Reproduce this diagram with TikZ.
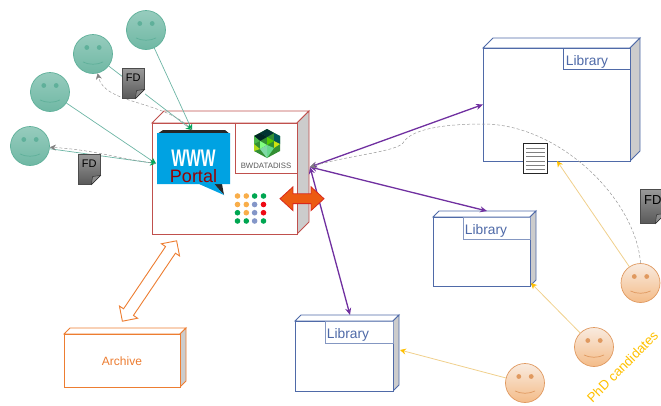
\documentclass[tikz,border=0pt]{standalone}
\usepackage{fontspec}
\setmainfont{Liberation Sans}
\usetikzlibrary{arrows.meta,shapes.arrows,calc}
\definecolor{facegreen}{HTML}{5FB09A}
\definecolor{facepeach}{HTML}{E0995F}
\definecolor{portalred}{HTML}{C0504D}
\definecolor{libblue}{HTML}{4F6AA8}
\definecolor{archorange}{HTML}{ED7D31}
\definecolor{phdyellow}{HTML}{FFC000}
\definecolor{linkpurple}{HTML}{7030A0}
\definecolor{linkteal}{HTML}{6DB5A5}
\definecolor{linksand}{HTML}{F0D08C}
\definecolor{bubbleblue}{HTML}{00A2E2}
\definecolor{dotorange}{HTML}{F9AE4A}
\definecolor{dotgreen}{HTML}{00A651}
\definecolor{dotblue}{HTML}{8496C8}
\definecolor{dotred}{HTML}{EE0A14}
\definecolor{arrowfill}{HTML}{EC5A12}
\definecolor{arrowedge}{HTML}{D8281C}
\tikzset{
	faceA/.style={circle,minimum size=39pt,inner sep=0pt,draw=facegreen,line width=0.7pt,top color=facegreen!65,bottom color=facegreen!90},
	faceB/.style={circle,minimum size=39pt,inner sep=0pt,draw=facepeach,line width=0.7pt,top color=facepeach!20,bottom color=orange!40!facepeach!60},
	frontbox/.style={draw=#1,fill=white,line width=0.9pt,inner sep=0pt,outer sep=0pt,anchor=north west},
	fdicon/.style={draw=black!70,line width=0.5pt,top color=black!40,bottom color=black!65,inner sep=0pt,anchor=north west,align=center},
	tealline/.style={color=linkteal,line width=0.7pt,-{Stealth[length=6pt,width=6pt,color=teal!70!green]}},
	purpleline/.style={color=linkpurple,line width=1.3pt,-{Stealth[length=7pt,width=6pt]}},
	sandline/.style={color=linksand,line width=0.8pt,-{Stealth[length=6pt,width=6pt,color=phdyellow]}},
	greyline/.style={color=black!40,line width=0.5pt,densely dashed,-{Stealth[length=6pt,width=6pt,color=black!50]}},
	libtext/.style={color=libblue,font=\fontsize{13.8}{14}\selectfont}
}
% face with eyes and mouth
\newcommand{\smiley}[5]{
	\node[#1] (#2) at (#3, #4) {};
	\fill[#5] ($(#2)+(-6.2,-6.5)$) circle (2.4);
	\fill[#5] ($(#2)+(6.2,-6.5)$) circle (2.4);
	\draw[#5,line width=0.7pt] ($(#2)+(-10,8)$) .. controls ($(#2)+(-4,11)$) and ($(#2)+(4,11)$) .. ($(#2)+(10,8)$);
}
% box with top and side faces, front is a node
\newcommand{\boxthreed}[7]{
	\filldraw[draw=#7,fill=white,line width=0.9pt] (#2, #3) -- (#2+#6, #3-#6) -- (#4+#6, #3-#6) -- (#4, #3) -- cycle;
	\filldraw[draw=#7,fill=black!20,line width=0.9pt] (#4, #3) -- (#4+#6, #3-#6) -- (#4+#6, #5-#6) -- (#4, #5) -- cycle;
	\node[frontbox=#7,minimum width=#4pt-#2pt,minimum height=#5pt-#3pt] (#1) at (#2, #3) {};
}
\newcommand{\fdnote}[7]{
	\node[fdicon,minimum width=#4pt,minimum height=#5pt] (#1) at (#2, #3) {};
	\fill[white] ($(#1.south east)+(-#7,0.5)$) -- ($(#1.south east)+(0.5,-#7)$) -- ($(#1.south east)+(0.5,0.5)$) -- cycle;
	\filldraw[draw=black!85,fill=black!45,line width=0.4pt] ($(#1.south east)+(-#7,0)$) -- ($(#1.south east)+(0,-#7)$) -- ($(#1.south east)+(-#7+1,-#7+1)$) -- cycle;
	\node[anchor=center,inner sep=0pt,font=\fontsize{#6}{#6}\selectfont] (#1text) at ($(#1.center)+(0,-#5*0.17)$) {FD};
}
\begin{document}
\begin{tikzpicture}[x=1pt,y=-1pt]
	\useasboundingbox (0,0) rectangle (661,405);

	% boxes
	\boxthreed{portal}{152}{123}{297}{234}{12}{portalred}
	\node[draw=portalred,line width=0.9pt,inner sep=0pt,outer sep=0pt,minimum width=62pt,minimum height=50pt,anchor=north west] (datadiss) at (235, 123.5) {};
	\node[inner sep=0pt,color=black!65,font=\fontsize{7.8}{8}\selectfont] (datadisstext) at (266, 166) {BWDATADISS};

	\boxthreed{libA}{483}{48}{630}{161}{10}{libblue}
	\node[draw=libblue,line width=0.8pt,anchor=north west,inner sep=0pt,outer sep=0pt,minimum width=67pt,minimum height=21pt] (libAlabel) at (563, 48) {};
	\node[libtext] (libAtext) at (587, 62) {Library};

	\boxthreed{libB}{433}{217}{530}{286}{6}{libblue}
	\node[draw=libblue!70,line width=0.8pt,anchor=north west,inner sep=0pt,outer sep=0pt,minimum width=67pt,minimum height=22pt] (libBlabel) at (463, 217) {};
	\node[libtext] (libBtext) at (486, 231) {Library};

	\boxthreed{libC}{295}{321}{393}{391}{6}{libblue}
	\node[draw=libblue!70,line width=0.8pt,anchor=north west,inner sep=0pt,outer sep=0pt,minimum width=68pt,minimum height=22pt] (libClabel) at (325, 321) {};
	\node[libtext] (libCtext) at (348, 335) {Library};

	\boxthreed{archive}{64}{334}{180}{387}{6}{archorange}
	\node[color=archorange,inner sep=0pt,font=\fontsize{12}{12}\selectfont] (archivetext) at (122, 361) {Archive};

	% bubble
	\fill[black!85] (157, 134) -- (163, 130) -- (225, 130) -- (230, 134) -- cycle;
	\fill[black!85] (214, 184) -- (224, 195) -- (222, 184) -- cycle;
	\fill[bubbleblue] (157, 133) -- (230, 133) -- (230, 184) -- (214, 184) -- (224, 195) -- (199, 184) -- (157, 184) -- cycle;
	\node[inner sep=0pt,color=white,font=\bfseries\fontsize{24}{24}\selectfont,xscale=0.65] (wwwtext) at (193.5, 158.5) {WWW};
	\node[inner sep=0pt,color=red!60!black,font=\fontsize{18}{18}\selectfont] (portaltext) at (193.5, 176) {Portal};

	% logo
	\fill[green!45!black!80] (267, 129) -- (280, 136) -- (280, 151) -- (267, 158) -- (254, 151) -- (254, 136) -- cycle;
	\fill[black!60!teal] (267, 129) -- (274, 133) -- (267, 137) -- (260, 133) -- cycle;
	\fill[black!70!teal] (260, 133) -- (267, 137) -- (260, 141) -- (254, 136) -- cycle;
	\fill[teal!70!black] (274, 133) -- (280, 136) -- (280, 144) -- (274, 141) -- cycle;
	\fill[green!60!yellow!80!black] (267, 137) -- (274, 141) -- (267, 145) -- cycle;
	\fill[yellow!80!green] (274, 141) -- (280, 144) -- (274, 148) -- cycle;
	\fill[green!60!black!70] (254, 136) -- (260, 141) -- (254, 144) -- cycle;
	\fill[green!50!white] (260, 141) -- (267, 145) -- (260, 149) -- cycle;
	\fill[yellow!70!green] (254, 144) -- (260, 149) -- (254, 151) -- cycle;
	\fill[teal!50!green!60] (267, 145) -- (274, 148) -- (267, 158) -- cycle;
	\fill[teal!60!green!50] (260, 149) -- (267, 145) -- (267, 158) -- cycle;

	% dots
	\fill[dotorange] (237.5, 196) circle (2.8);
	\fill[dotorange] (246.3, 196) circle (2.8);
	\fill[dotgreen] (254.6, 196) circle (2.8);
	\fill[dotgreen] (263.5, 196) circle (2.8);
	\fill[dotorange] (237.5, 204.5) circle (2.8);
	\fill[dotorange] (246.3, 204.5) circle (2.8);
	\fill[dotblue] (254.6, 204.5) circle (2.8);
	\fill[dotred] (263.5, 204.5) circle (2.8);
	\fill[dotgreen] (237.5, 212.7) circle (2.8);
	\fill[dotorange] (246.3, 212.7) circle (2.8);
	\fill[dotblue] (254.6, 212.7) circle (2.8);
	\fill[dotred] (263.5, 212.7) circle (2.8);
	\fill[dotgreen] (237.5, 221) circle (2.8);
	\fill[dotgreen] (246.3, 221) circle (2.8);
	\fill[dotblue] (254.6, 221) circle (2.8);
	\fill[dotgreen] (263.5, 221) circle (2.8);

	% faces
	\smiley{faceA}{scholarA}{146}{30}{facegreen}
	\smiley{faceA}{scholarB}{93}{54}{facegreen}
	\smiley{faceA}{scholarC}{50}{92}{facegreen}
	\smiley{faceA}{scholarD}{30}{146}{facegreen}
	\smiley{faceB}{phdA}{640.5}{283}{facepeach}
	\smiley{faceB}{phdB}{594}{347}{facepeach}
	\smiley{faceB}{phdC}{525}{383}{facepeach}
	\node[color=phdyellow,rotate=45,anchor=base west,inner sep=0pt,font=\fontsize{13.3}{14}\selectfont] (phdtext) at (592.5, 403.5) {PhD candidates};

	% free ends
	\coordinate (portaltop) at (192, 130);
	\coordinate (portalleft) at (156, 163.5);
	\coordinate (portalright) at (310, 167);
	\coordinate (libAbottom) at (557, 161);
	\coordinate (libBtop) at (487, 211);
	\coordinate (libBcorner) at (531, 283);
	\coordinate (libCtop) at (350, 315);
	\coordinate (libCside) at (400, 350);

	% green links
	\draw[tealline] (scholarA) -- (portaltop);
	\draw[tealline] (scholarB) -- (portaltop);
	\draw[tealline] (scholarC) -- (portalleft);
	\draw[tealline] (scholarD) -- (portalleft);
	\draw[greyline] (portaltop) .. controls (165, 100) and (105, 105) .. (scholarB);
	\draw[greyline] (portalleft) .. controls (115, 158) and (95, 150) .. (scholarD);

	% purple links
	\draw[purpleline,{Stealth[length=7pt,width=6pt]}-{Stealth[length=7pt,width=6pt]}] (portalright) -- (libA.west);
	\draw[purpleline,{Stealth[length=7pt,width=6pt]}-{Stealth[length=7pt,width=6pt]}] (portalright) -- (libBtop);
	\draw[purpleline,{Stealth[length=7pt,width=6pt]}-{Stealth[length=7pt,width=6pt]}] (portalright) -- (libCtop);

	% yellow links
	\draw[sandline] (phdA) -- (libAbottom);
	\draw[sandline] (phdB) -- (libBcorner);
	\draw[sandline] (phdC) -- (libCside);
	\draw[greyline] (phdA.north) .. controls (636, 200) and (560, 124) .. (483, 124) .. controls (440, 124) and (410, 130) .. (403, 143) .. controls (395, 152) and (350, 155) .. (portalright);

	% notes
	\fdnote{noteA}{122}{68}{22}{30}{11}{9}
	\fdnote{noteB}{78}{154}{22}{30}{11}{9}
	\fdnote{noteC}{640}{189}{25}{34}{13}{10}
	\node[draw=black!85,fill=white,line width=0.8pt,inner sep=0pt,minimum width=24pt,minimum height=30pt,anchor=north west] (document) at (523, 143) {};
	\draw[black!50,line width=0.6pt] ($(document.north west)+(3,5)$) -- ($(document.north east)+(-3,5)$);
	\draw[black!50,line width=0.6pt] ($(document.north west)+(3,9)$) -- ($(document.north east)+(-3,9)$);
	\draw[black!50,line width=0.6pt] ($(document.north west)+(3,13.5)$) -- ($(document.north east)+(-3,13.5)$);
	\draw[black!50,line width=0.6pt] ($(document.north west)+(3,18)$) -- ($(document.north east)+(-3,18)$);
	\draw[black!50,line width=0.6pt] ($(document.north west)+(3,22)$) -- ($(document.north east)+(-3,22)$);
	\draw[black!50,line width=0.6pt] ($(document.north west)+(3,26)$) -- ($(document.north east)+(-3,26)$);

	% double arrows
	\node[double arrow,draw=arrowedge,fill=arrowfill,line width=0.8pt,inner xsep=0pt,inner ysep=4.5pt,minimum height=44pt,double arrow head extend=7pt,double arrow tip angle=85] (portalarrow) at (302, 198.7) {};
	\node[double arrow,draw=archorange,fill=white,line width=0.9pt,inner xsep=0pt,inner ysep=5.5pt,minimum height=97pt,double arrow head extend=5pt,double arrow tip angle=90,rotate=56] (archivearrow) at (149.5, 281) {};
\end{tikzpicture}
\end{document}
